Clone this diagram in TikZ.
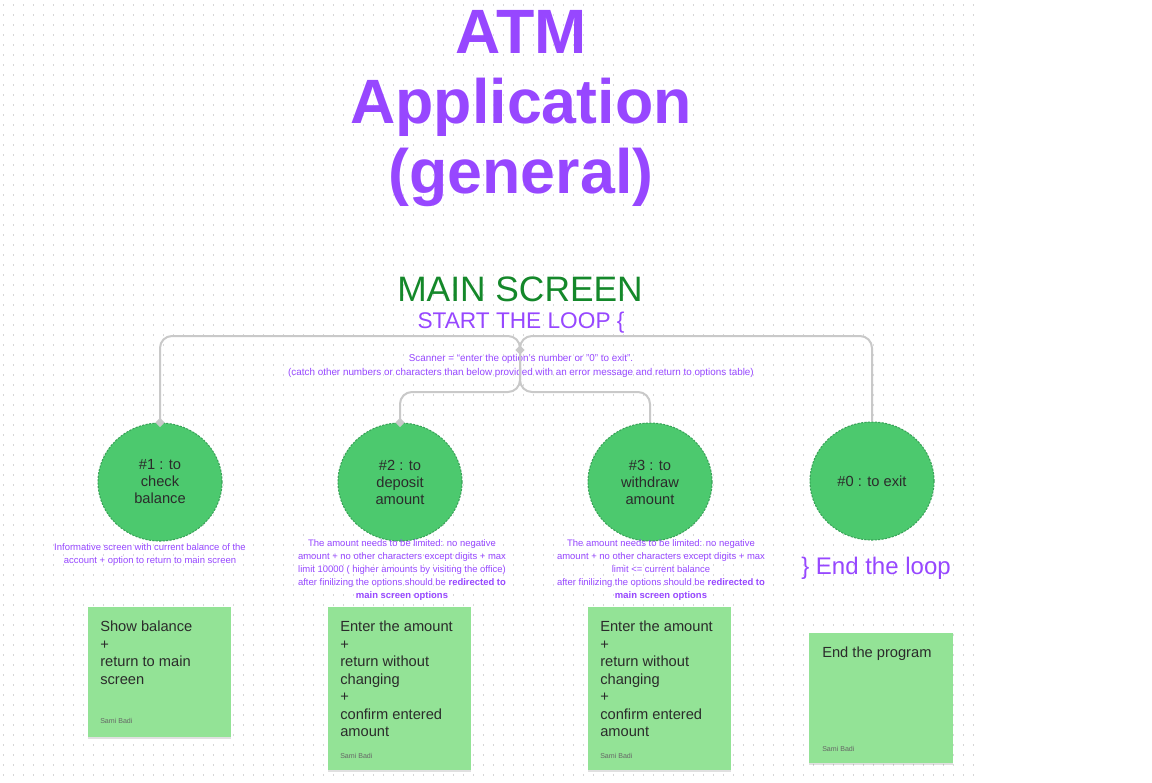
\documentclass[tikz,border=0pt]{standalone}
\usepackage{fontspec}
\setmainfont{Liberation Sans}
\usetikzlibrary{shapes.geometric,calc,shadows}

\definecolor{atmpurple}{HTML}{9747FF}
\definecolor{titlegreen}{HTML}{14882A}
\definecolor{circfill}{HTML}{4CC96E}
\definecolor{circedge}{HTML}{39A358}
\definecolor{notefill}{HTML}{93E396}
\definecolor{linkgray}{HTML}{C9C9C9}
\definecolor{darktext}{HTML}{2B2B2B}
\definecolor{dotgray}{HTML}{D6D6D6}

\begin{document}
\begin{tikzpicture}[
  x=0.75pt, y=-0.75pt,
  dotrow/.style={draw=dotgray, line width=0.9pt, dash pattern=on 0.9pt off 6.6pt},
  option/.style={ellipse, fill=circfill, draw=circedge, line width=0.8pt,
    dash pattern=on 1.6pt off 1pt, minimum width=93pt, minimum height=88.5pt,
    inner sep=0pt, align=center, text=darktext,
    font=\fontsize{11}{12.75}\selectfont},
  note/.style={rectangle, fill=notefill, anchor=north west, inner sep=0pt,
    minimum width=107.25pt,
    drop shadow={shadow xshift=0pt, shadow yshift=-1.2pt, opacity=0.12, fill=black}},
  notetext/.style={anchor=north west, inner sep=0pt, align=left, text=darktext,
    font=\fontsize{11}{13.1}\selectfont},
  author/.style={anchor=west, inner sep=0pt, text=black!60,
    font=\fontsize{5.3}{6}\selectfont},
  % multi-line texts are placed by the baseline of their last line
  descr/.style={anchor=base, inner sep=0pt, align=center, text=atmpurple,
    font=\fontsize{7.1}{9.6}\selectfont},
  link/.style={draw=linkgray, line width=1.5pt, rounded corners=9pt},
  joint/.style={diamond, fill=linkgray, inner sep=0pt, minimum size=7pt}
]
\useasboundingbox (0,0) rectangle (1152,782);
\fill[white] (0,0) rectangle (1152,782);

% dotted canvas grid
\foreach \r in {0,...,77} {
  \draw[dotrow] (3,{5+10*\r}) -- (980,{5+10*\r});
}

% headings
\node[anchor=base, inner sep=0pt, align=center, text=atmpurple,
  font=\fontsize{47}{52.5}\bfseries\selectfont] (title) at (521,193)
  {ATM\\Application\\(general)};
\node[anchor=base, inner sep=0pt, text=titlegreen,
  font=\fontsize{26.5}{30}\selectfont] (main) at (520,301) {MAIN SCREEN};
\node[anchor=base, inner sep=0pt, text=atmpurple,
  font=\fontsize{17}{20}\selectfont] (start) at (521,328) {START THE LOOP \{};
\node[anchor=base, inner sep=0pt, align=center, text=atmpurple,
  font=\fontsize{7.4}{10.5}\selectfont] (scanner) at (521,375)
  {Scanner = ``enter the option's number or "0" to exit".\\
   (catch other numbers or characters than below provided with an error message and return to options table)};

% menu options
\node[option] (c1) at (160,482) {\#1 : to\\check\\balance};
\node[option] (c2) at (400,482) {\#2 : to\\deposit\\amount};
\node[option] (c3) at (650,482) {\#3 : to\\withdraw\\amount};
\node[option] (c4) at (872,481) {\#0 : to exit};

% branches from the scanner
\coordinate (hub) at (520,350);
\draw[link] (hub) -- ++(0,-14) -| (c1.north);
\draw[link] (hub) -- ++(0,-14) -| (c4.north);
\draw[link] (hub) -- ++(0,42) -| (c2.north);
\draw[link] (hub) -- ++(0,42) -| (c3.north);
\node[joint] (j0) at (hub) {};
\node[joint] (j1) at (c1.north) {};
\node[joint] (j2) at (c2.north) {};

% option descriptions
\node[descr] (d1) at (150,563)
  {Informative screen with current balance of the\\
   account + option to return to main screen};
\node[descr] (d2) at (402,598)
  {The amount needs to be limited: no negative\\
   amount + no other characters except digits + max\\
   limit 10000 ( higher amounts by visiting the office)\\
   after finilizing the options should be \textbf{redirected to}\\
   \textbf{main screen options}};
\node[descr] (d3) at (661,598)
  {The amount needs to be limited: no negative\\
   amount + no other characters except digits + max\\
   limit <= current balance\\
   after finilizing the options should be \textbf{redirected to}\\
   \textbf{main screen options}};
\node[anchor=base west, inner sep=0pt, text=atmpurple,
  font=\fontsize{18}{20}\selectfont] (endloop) at (801,574) {\} End the loop};

% sticky notes
\node[note, minimum height=97.5pt] (n1) at (88,607) {};
\node[note, minimum height=122.25pt] (n2) at (328,607) {};
\node[note, minimum height=122.25pt] (n3) at (588,607) {};
\node[note, minimum width=108pt, minimum height=97.5pt] (n4) at (809,633) {};

\node[notetext] (t1) at ($(n1.north west)+(12,14)$)
  {Show balance\\+\\return to main\\screen};
\node[notetext] (t2) at ($(n2.north west)+(12,14)$)
  {Enter the amount\\+\\return without\\changing\\+\\confirm entered\\amount};
\node[notetext] (t3) at ($(n3.north west)+(12,14)$)
  {Enter the amount\\+\\return without\\changing\\+\\confirm entered\\amount};
\node[notetext] (t4) at ($(n4.north west)+(13,14)$) {End the program};

\node[author] (a1) at ($(n1.south west)+(12,-17)$) {Sami Badi};
\node[author] (a2) at ($(n2.south west)+(12,-15)$) {Sami Badi};
\node[author] (a3) at ($(n3.south west)+(12,-15)$) {Sami Badi};
\node[author] (a4) at ($(n4.south west)+(13,-15)$) {Sami Badi};
\end{tikzpicture}
\end{document}
